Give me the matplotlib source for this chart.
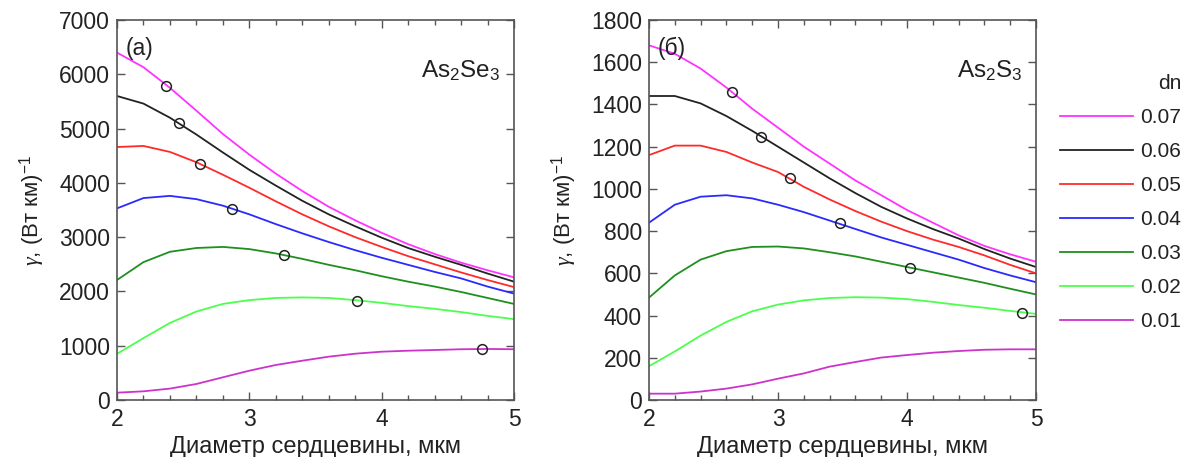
import matplotlib
matplotlib.use("Agg")
import matplotlib.pyplot as plt
from matplotlib.ticker import MultipleLocator
from matplotlib.lines import Line2D

plt.rcParams['font.family'] = ['Liberation Sans', 'DejaVu Sans']
plt.rcParams['mathtext.fontset'] = 'custom'
plt.rcParams['mathtext.rm'] = 'Liberation Sans'
plt.rcParams['mathtext.it'] = 'Liberation Serif:italic'
plt.rcParams['mathtext.bf'] = 'Liberation Sans:bold'

diam = [2.0, 2.2, 2.4, 2.6, 2.8, 3.0, 3.2, 3.4, 3.6, 3.8, 4.0, 4.2, 4.4, 4.6, 4.8, 5.0]
dn_labels = ['0.07', '0.06', '0.05', '0.04', '0.03', '0.02', '0.01']
colors = ['#ff33ff', '#222222', '#ff2a2a', '#2a2aff', '#1f8f1f', '#4dff4d', '#cc33cc']

# As2Se3
se_07 = [6400, 6130, 5750, 5330, 4900, 4520, 4170, 3850, 3560, 3310, 3080, 2870, 2690, 2530, 2390, 2260]
se_06 = [5600, 5460, 5200, 4890, 4560, 4240, 3950, 3670, 3420, 3200, 2990, 2800, 2640, 2490, 2330, 2180]
se_05 = [4660, 4680, 4570, 4380, 4150, 3910, 3660, 3420, 3200, 3000, 2820, 2650, 2500, 2350, 2210, 2080]
se_04 = [3530, 3720, 3760, 3700, 3580, 3420, 3240, 3070, 2910, 2760, 2620, 2490, 2360, 2240, 2090, 1960]
se_03 = [2210, 2540, 2730, 2800, 2820, 2780, 2700, 2600, 2490, 2390, 2280, 2180, 2090, 1990, 1880, 1770]
se_02 = [850, 1140, 1420, 1630, 1770, 1840, 1880, 1890, 1880, 1840, 1790, 1730, 1680, 1620, 1550, 1490]
se_01 = [135, 160, 210, 295, 418, 540, 645, 724, 798, 853, 890, 908, 921, 935, 940, 935]
se_circ_x = [2.37, 2.47, 2.63, 2.87, 3.26, 3.81, 4.76]
se_circ_y = [5790, 5110, 4340, 3520, 2680, 1830, 945]

# As2S3
s_07 = [1680, 1640, 1570, 1480, 1380, 1290, 1200, 1120, 1040, 970, 900, 840, 780, 730, 690, 655]
s_06 = [1440, 1440, 1405, 1345, 1275, 1200, 1125, 1050, 980, 915, 860, 810, 765, 715, 670, 630]
s_05 = [1160, 1205, 1205, 1175, 1125, 1080, 1010, 950, 895, 845, 800, 760, 725, 685, 640, 600]
s_04 = [840, 925, 963, 970, 955, 925, 890, 850, 810, 770, 735, 700, 665, 625, 590, 558]
s_03 = [485, 590, 665, 705, 725, 727, 718, 700, 680, 655, 630, 605, 580, 555, 527, 500]
s_02 = [160, 230, 305, 370, 420, 452, 472, 483, 487, 485, 478, 465, 450, 437, 422, 408]
s_01 = [30, 30, 40, 54, 74, 101, 126, 158, 180, 201, 213, 224, 232, 238, 240, 240]
s_circ_x = [2.64, 2.87, 3.09, 3.48, 4.02, 4.89]
s_circ_y = [1461, 1246, 1053, 837, 627, 411]

W, H = 1191, 457
fig = plt.figure(figsize=(W / 100, H / 100), dpi=100)

def px_axes(x0, y0, x1, y1):
    return fig.add_axes([x0 / W, 1 - y1 / H, (x1 - x0) / W, (y1 - y0) / H])

ax1 = px_axes(117, 20, 514, 400)
ax2 = px_axes(649, 20, 1036, 400)

spine_c = '#555555'
txt_c = '#222222'

def style(ax, ymax, ystep, label, mat):
    ax.set_xlim(2, 5)
    ax.set_ylim(0, ymax)
    ax.xaxis.set_major_locator(MultipleLocator(1))
    ax.xaxis.set_minor_locator(MultipleLocator(0.2))
    ax.yaxis.set_major_locator(MultipleLocator(ystep))
    ax.tick_params(which='both', direction='in', top=True, right=True,
                   colors=spine_c, labelcolor=txt_c, labelsize=16.5)
    ax.tick_params(which='major', length=6, width=1)
    ax.tick_params(which='minor', length=3.5, width=1)
    ax.tick_params(axis='x', pad=6)
    ax.tick_params(axis='y', pad=5)
    for s in ax.spines.values():
        s.set_color(spine_c)
        s.set_linewidth(1.2)
    ax.set_xlabel('Диаметр сердцевины, мкм', fontsize=17, color=txt_c, labelpad=3)
    ax.set_ylabel(r'$\gamma$, (Вт км)$^{-1}$', fontsize=16, color=txt_c, labelpad=9)
    ax.text(0.022, 0.955, label, transform=ax.transAxes, fontsize=16.5, color=txt_c,
            ha='left', va='top')
    ax.text(0.965, 0.865, mat, transform=ax.transAxes, fontsize=17.5, color=txt_c,
            ha='right', va='center')

series_se = [se_07, se_06, se_05, se_04, se_03, se_02, se_01]
series_s = [s_07, s_06, s_05, s_04, s_03, s_02, s_01]

for ys, c in zip(series_se, colors):
    ax1.plot(diam, ys, color=c, lw=1.3)
ax1.plot(se_circ_x, se_circ_y, 'o', mfc='none', mec='#222222', ms=7, mew=1.1)
for ys, c in zip(series_s, colors):
    ax2.plot(diam, ys, color=c, lw=1.3)
ax2.plot(s_circ_x, s_circ_y, 'o', mfc='none', mec='#222222', ms=7, mew=1.1)

style(ax1, 7000, 1000, '(a)', r'As$_2$Se$_3$')
style(ax2, 1800, 200, '(б)', r'As$_2$S$_3$')

handles = [Line2D([], [], color=c, lw=1.3) for c in colors]
leg = fig.legend(handles, dn_labels, title='dn', loc='upper left',
                 bbox_to_anchor=(1052 / W, 1 - 66 / H), frameon=False,
                 fontsize=15, title_fontsize=15, handlelength=3.5,
                 labelspacing=0.72, handletextpad=0.35, borderaxespad=0,
                 borderpad=0.4)
for t in leg.get_texts():
    t.set_color(txt_c)
leg.get_title().set_color(txt_c)
leg._legend_box.align = 'right'

fig.savefig('out.png', dpi=100)
